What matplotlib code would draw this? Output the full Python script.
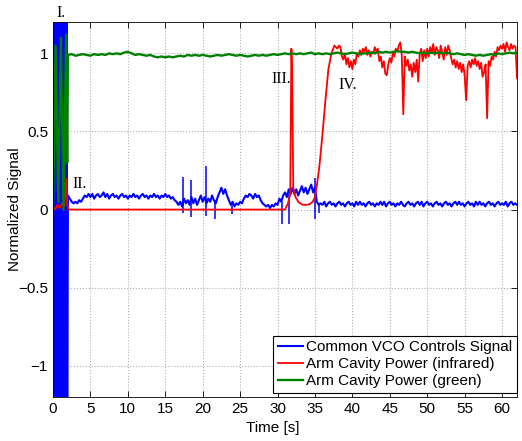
import matplotlib
matplotlib.use("Agg")
import matplotlib.pyplot as plt
import numpy as np

plt.rcParams['font.family'] = ['Liberation Sans', 'DejaVu Sans']

# --- Common VCO controls signal (blue) ---
# start-up burst, 0 .. 1.9 s in 0.1 s steps (runs off the axes)
blue_burst = [1.5, -1.5, 1.5, -1.5, 1.5, -1.5, 1.5, -1.5, 1.5, -1.5,
              1.5, -1.5, 1.5, -1.5, 1.5, -1.5, 1.5, -1.5, 1.5, -1.5]
# 2 .. 62 s in 0.25 s steps
blue_vals = [
    0.09, 0.07, 0.05, 0.04,  0.05, 0.04, 0.06, 0.05,  0.07, 0.09, 0.08, 0.10,
    0.08, 0.10, 0.07, 0.09,  0.10, 0.08, 0.09, 0.11,  0.08, 0.10, 0.07, 0.09,
    0.10, 0.08, 0.09, 0.07,  0.09, 0.10, 0.08, 0.09,  0.07, 0.09, 0.08, 0.10,
    0.08, 0.09, 0.07, 0.09,  0.10, 0.08, 0.09, 0.07,  0.09, 0.08, 0.10, 0.08,
    0.09, 0.07, 0.09, 0.08,  0.10, 0.08, 0.09, 0.07,  0.08, 0.06, 0.05, 0.03,
    0.05, 0.02, 0.07, 0.04,  0.06, 0.03, 0.08, 0.04,  0.07, 0.03, 0.06, 0.09,
    0.05, 0.08, 0.04, 0.07,  0.05, 0.09, 0.06, 0.04,  0.08, 0.11, 0.14, 0.10,
    0.13, 0.09, 0.06, 0.03,  0.05, 0.02, 0.04, 0.03,  0.05, 0.04, 0.07, 0.09,
    0.08, 0.10, 0.09, 0.07,  0.10, 0.08, 0.09, 0.06,  0.04, 0.03, 0.02, 0.03,
    0.01, 0.03, 0.02, 0.04,  0.03, 0.07, 0.05, 0.09,  0.11, 0.08, 0.13, 0.10,
    0.14, 0.10, 0.13, 0.09,  0.12, 0.15, 0.11, 0.14,  0.10, 0.13, 0.16, 0.11,
    0.14, 0.05, 0.03, 0.04,
    0.03, 0.05, 0.02, 0.04,  0.05, 0.03, 0.04, 0.02,  0.04, 0.05, 0.03, 0.04,
    0.02, 0.04, 0.05, 0.03,  0.04, 0.02, 0.05, 0.03,  0.05, 0.03, 0.04, 0.02,
    0.04, 0.05, 0.03, 0.04,  0.02, 0.04, 0.03, 0.05,  0.03, 0.05, 0.02, 0.04,
    0.05, 0.03, 0.04, 0.02,  0.04, 0.03, 0.05, 0.03,  0.02, 0.04, 0.05, 0.03,
    0.04, 0.02, 0.04, 0.05,  0.03, 0.05, 0.02, 0.04,  0.05, 0.03, 0.04, 0.02,
    0.04, 0.05, 0.03, 0.04,  0.02, 0.04, 0.05, 0.03,  0.04, 0.02, 0.04, 0.05,
    0.03, 0.05, 0.03, 0.04,  0.02, 0.04, 0.05, 0.03,  0.04, 0.02, 0.05, 0.03,
    0.05, 0.03, 0.04, 0.02,  0.04, 0.05, 0.03, 0.04,  0.02, 0.04, 0.05, 0.03,
    0.04, 0.03, 0.05, 0.02,  0.04, 0.05, 0.03, 0.04,
    0.03,
]
# narrow glitches in the blue trace: time, low, high
spike_t = [17.4, 18.45, 20.4, 21.6, 23.9, 30.6, 31.5, 35.0, 35.5]
spike_lo = [-0.02, -0.05, -0.04, -0.06, -0.03, -0.09, -0.09, -0.06, -0.02]
spike_hi = [0.21, 0.19, 0.28, 0.06, 0.04, 0.05, 0.10, 0.20, 0.04]

# --- Arm cavity power, infrared (red) ---
red_t_early = [0.0, 0.3, 0.6, 0.9, 1.2, 1.5, 1.8, 1.9, 2.1,
               31.0, 31.4, 31.7, 31.85, 31.95, 32.1, 32.4, 32.8, 33.3, 33.8,
               34.3, 34.7, 35.0, 35.3, 35.6, 36.0, 36.4, 36.8, 37.2, 37.6]
red_v_early = [0.02, 0.0, 0.03, 0.01, 0.04, 0.02, 0.2, 0.03, 0.0,
               0.0, 0.04, 0.1, 1.03, 0.9, 0.14, 0.08, 0.047, 0.032, 0.03,
               0.035, 0.05, 0.08, 0.17, 0.28, 0.48, 0.7, 0.9, 1.0, 1.05]
# 38 .. 62 s in 0.2 s steps
red_locked = [
    1.03, 1.05, 1.04, 0.98, 0.96,  1.00, 0.93, 0.97, 0.91, 0.95,
    0.90, 0.96, 0.93, 1.00, 0.98,  1.02, 0.99, 1.03, 1.01, 1.04,
    0.99, 1.02, 0.98, 1.01, 1.00,  1.04, 1.01, 1.03, 0.95, 0.98,
    0.91, 0.95, 0.87, 0.86, 0.93,  0.97, 0.94, 1.00, 0.98, 1.03,
    1.01, 1.05, 1.07, 0.99, 0.61,  0.98, 0.92, 0.96, 0.89, 0.93,
    0.85, 0.94, 0.88, 0.96, 0.82,  1.00, 1.03, 0.95, 1.02, 0.97,
    1.03, 0.98, 1.04, 1.00, 1.06,  0.99, 1.04, 1.02, 0.97, 1.05,
    1.01, 0.96, 1.04, 0.99, 1.05,  1.02, 0.97, 0.93, 0.96, 0.91,
    0.95, 0.90, 0.94, 0.88, 0.93,  0.86, 0.70, 0.92, 0.95, 0.91,
    0.96, 0.93, 0.97, 0.92, 0.95,  0.90, 0.94, 0.85, 0.88, 0.93,
    0.585, 0.95, 0.92, 0.98, 0.96, 1.01, 0.98, 1.04, 1.02, 1.05,
    1.03, 1.06, 1.01, 1.07, 1.04,  1.02, 1.06, 1.03, 1.05, 1.04,
    0.84,
]

# --- Arm cavity power, green (green) ---
green_burst_t = [0.0, 0.35, 0.7, 1.05, 1.4, 1.75, 1.9]
green_burst = [0.0, 1.05, 0.05, 1.1, 0.0, 1.12, 0.3]
# 2 .. 62 s in 0.5 s steps
green_vals = [
    0.99, 0.995, 0.985, 0.99, 0.995, 0.99, 0.985, 0.995, 0.99, 0.995,
    0.99, 1.0, 0.995, 1.0, 0.995, 1.005, 1.01, 1.0, 0.99, 0.995,
    0.99, 0.985, 0.99, 0.98, 0.975, 0.98, 0.975, 0.98, 0.975, 0.98,
    0.985, 0.98, 0.99, 0.985, 0.99, 0.985, 0.99, 0.985, 0.98, 0.985,
    0.99, 0.985, 0.99, 0.995, 0.99, 0.985, 0.99, 0.985, 0.98, 0.985,
    0.99, 0.985, 0.99, 0.985, 0.99, 0.995, 0.99, 0.995, 1.0, 0.995,
    1.0, 0.995, 1.0, 0.995, 1.0, 1.005, 0.995, 1.0, 0.995, 1.0,
    0.995, 1.0, 1.005, 1.0, 0.995, 1.0, 1.005, 1.0, 0.995, 1.0,
    1.0, 1.005, 1.0, 1.01, 1.005, 1.01, 1.005, 1.01, 1.015, 1.01,
    1.01, 1.005, 1.01, 1.005, 1.0, 1.005, 1.0, 1.005, 1.0, 1.005,
    1.0, 1.005, 1.0, 0.995, 1.0, 0.995, 0.99, 0.995, 0.99, 0.985,
    0.99, 0.985, 0.99, 0.995, 0.99, 1.0, 0.995, 1.0, 1.005, 1.0,
    1.005,
]

labels = ['Common VCO Controls Signal', 'Arm Cavity Power (infrared)',
          'Arm Cavity Power (green)']
notes = ['I.', 'II.', 'III.', 'IV.']
note_x = [0.4, 2.6, 29.2, 38.1]
note_y = [1.23, 0.14, 0.81, 0.77]

# --- assemble time axes ---
blue_t = np.concatenate([np.linspace(0, 1.9, len(blue_burst)),
                         np.linspace(2, 62, len(blue_vals))])
blue_y = np.concatenate([blue_burst, blue_vals])
red_t = np.concatenate([red_t_early, np.linspace(38, 62, len(red_locked))])
red_y = np.concatenate([red_v_early, red_locked])
green_t = np.concatenate([green_burst_t, np.linspace(2, 62, len(green_vals))])
green_y = np.concatenate([green_burst, green_vals])

fig = plt.figure(figsize=(5.22, 4.41), dpi=100)
ax = fig.add_axes([0.1015, 0.0998, 0.889, 0.850])

ax.plot(blue_t, blue_y, color='#0000ff', lw=1.5, label=labels[0])
ax.vlines(spike_t, spike_lo, spike_hi, color='#0000ff', lw=1.1)
ax.plot(red_t, red_y, color='#ff0000', lw=1.3, label=labels[1])
ax.plot(green_t, green_y, color='#008000', lw=1.7, label=labels[2])

for s, x, y in zip(notes, note_x, note_y):
    ax.text(x, y, s, family='Liberation Serif', fontsize=11.5,
            ha='left', va='baseline', clip_on=False)

ax.set_xlim(0, 62)
ax.set_ylim(-1.2, 1.2)
ax.set_xticks(np.arange(0, 61, 5))
ax.set_yticks([-1, -0.5, 0, 0.5, 1])
ax.set_yticklabels(['\u22121', '\u22120.5', '0', '0.5', '1'])
ax.tick_params(direction='in', top=True, right=True, length=4,
               labelsize=11, width=0.6)
ax.grid(True, linestyle=':', color='#b0b0b0', linewidth=0.8)
for sp in ax.spines.values():
    sp.set_linewidth(0.6)

ax.set_xlabel('Time [s]', fontsize=11, labelpad=0)
ax.xaxis.set_label_coords(0.474, -0.065)
ax.set_ylabel('Normalized Signal', fontsize=11)
ax.yaxis.set_label_coords(-0.067, 0.5)

leg = ax.legend(loc='lower right', bbox_to_anchor=(1.0, 0.011),
                borderaxespad=0, fontsize=11, fancybox=False, framealpha=1,
                edgecolor='black', handlelength=1.65, handletextpad=0.2,
                borderpad=0.3, labelspacing=0.2)
leg.get_frame().set_linewidth(0.8)

fig.savefig('out.png', dpi=100)
